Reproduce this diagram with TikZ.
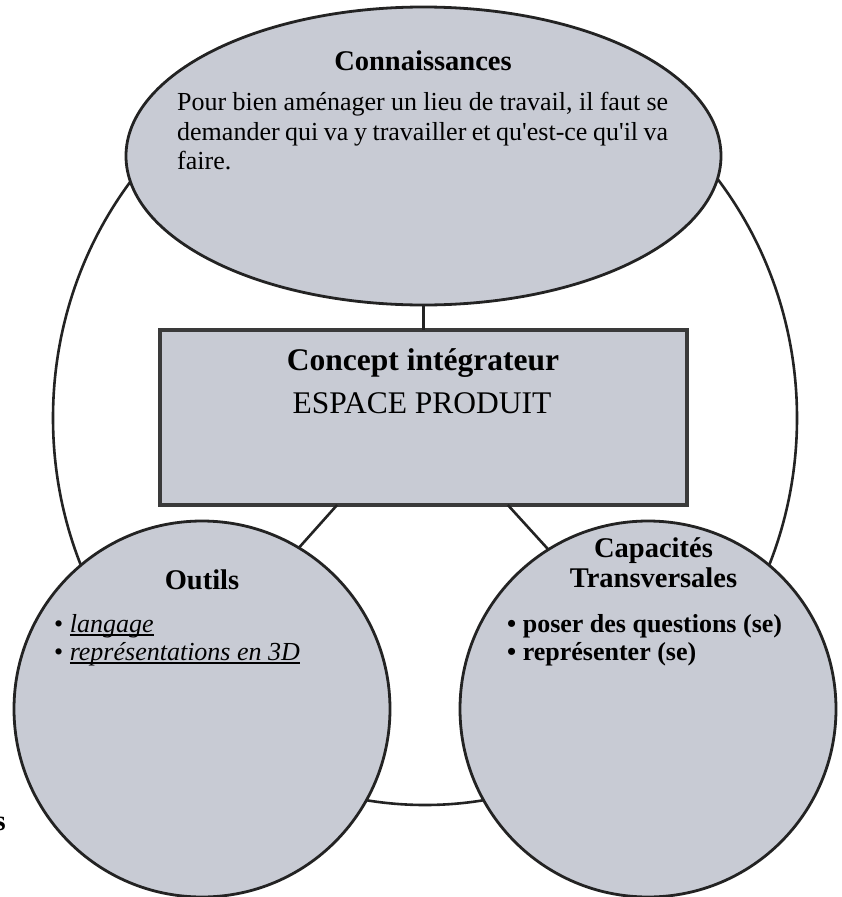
\documentclass[tikz,border=0pt]{standalone}
\usepackage{fontspec}
\setmainfont{Liberation Serif}[Ligatures=TeXOff]
\usetikzlibrary{shapes.geometric,calc,positioning}
\definecolor{bulle}{RGB}{200,203,212}
\definecolor{trait}{RGB}{35,35,35}
\definecolor{cadre}{RGB}{58,58,58}
\newcommand{\souligne}[1]{\setbox0\hbox{#1}\rlap{\rule[-3.5pt]{\wd0}{1.6pt}}\box0}
\newcommand{\ligne}[1]{\makebox[491pt][s]{#1}}
\tikzset{
  forme/.style={draw=trait,line width=2.8pt,fill=bulle,inner sep=0pt,outer sep=0pt},
  lien/.style={draw=trait,line width=2.6pt},
  titre/.style={font=\fontsize{28.5}{32}\selectfont\bfseries,inner sep=0pt,anchor=base},
  grand/.style={font=\fontsize{31.5}{36}\selectfont,inner sep=0pt,anchor=base},
  texte/.style={font=\fontsize{26}{29.5}\selectfont,inner sep=0pt},
  puce/.style={texte,anchor=base west}
}

\begin{document}
\begin{tikzpicture}[x=1pt,y=-1pt]
  \useasboundingbox[fill=white] (0,0) rectangle (841,897);

  % grand cercle du fond
  \node[ellipse,draw=trait,line width=2.6pt,inner sep=0pt,
    minimum width=744pt,minimum height=774pt] (fond) at (425,418) {};

  % les bulles
  \node[forme,ellipse,minimum width=595pt,minimum height=298pt] (conn) at (423.5,156) {};
  \node[forme,draw=cadre,line width=3.5pt,minimum width=527pt,minimum height=175pt] (concept) at (423.5,417.5) {};
  \node[forme,circle,minimum size=376pt] (outils) at (202,709) {};
  \node[forme,circle,minimum size=376pt] (capa) at (648,709) {};

  % liens
  \coordinate (c1) at ($(concept.south west)!0.336!(concept.south east)$);
  \coordinate (c2) at ($(concept.south west)!0.660!(concept.south east)$);
  \draw[lien] (conn.south) -- (concept.north);
  \draw[lien] (c1) -- (outils.59);
  \draw[lien] (c2) -- (capa.122);

  % textes
  \node[titre] (conn-titre) at (423,70) {Connaissances};
  \node[texte,align=left,anchor=north west] (conn-texte) at (177,92)
    {\ligne{Pour bien aménager un lieu de travail, il faut se}\\
     \ligne{demander qui va y travailler et qu'est-ce qu'il va}\\
     faire.};

  \node[grand,font=\fontsize{31.5}{36}\selectfont\bfseries] (concept-titre) at (423,370) {Concept intégrateur};
  \node[grand] (concept-nom) at (422,413) {ESPACE PRODUIT};

  \node[titre] (outils-titre) at (202,589) {Outils};
  \node[puce] (outils-1) at (54,632) {\textbullet\ \textit{\souligne{langage}}};
  \node[puce] (outils-2) at (54,660) {\textbullet\ \textit{\souligne{représentations en 3D}}};

  \node[titre] (capa-titre) at (653.5,557) {Capacités};
  \node[titre] (capa-titre2) at (653.5,587) {Transversales};
  \node[puce,font=\fontsize{26}{29.5}\selectfont\bfseries] (capa-1) at (507,632) {\textbullet\ poser des questions (se)};
  \node[puce,font=\fontsize{26}{29.5}\selectfont\bfseries] (capa-2) at (507,660) {\textbullet\ représenter (se)};

  \node[titre,anchor=base east] (reste) at (6,830) {s};
\end{tikzpicture}
\end{document}
